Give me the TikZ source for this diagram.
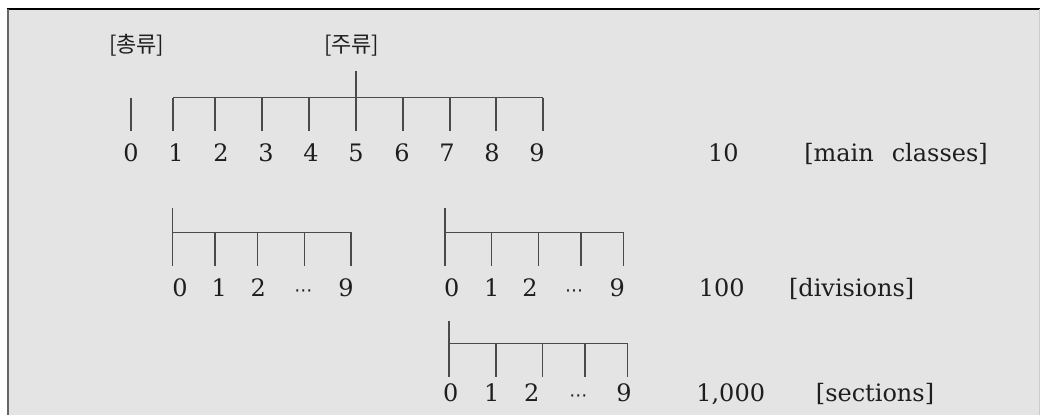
\documentclass[tikz,border=0pt]{standalone}
\usepackage{fontspec}
\setmainfont{DejaVu Serif}
\newfontfamily\kofont{Noto Sans CJK KR}
\newfontfamily\symfont{DejaVu Sans}
\definecolor{bgfill}{HTML}{E4E4E4}
\definecolor{inkc}{HTML}{1E1E1E}
\definecolor{linec}{HTML}{4A4A4A}
\begin{document}
\begin{tikzpicture}[x=0.5pt,y=-0.5pt,
  lbl/.style={anchor=base,inner sep=0pt,text=inkc,font=\fontsize{12pt}{14pt}\selectfont},
  kolbl/.style={anchor=center,inner sep=0pt,text=inkc,font=\kofont\fontsize{11pt}{13pt}\selectfont},
  combline/.style={draw=linec,line width=0.65pt}]
\useasboundingbox (0,0) rectangle (1040,415);
% frame
\fill[bgfill] (7,9) rectangle (1040,415);
\draw[black,line width=1pt] (7,9) -- (1040,9);
\draw[black!60,line width=1pt] (7.5,9) -- (7.5,415);
\draw[black!20,line width=0.5pt] (1039.5,9) -- (1039.5,415);

% ---------- row 1 : main classes ----------
\node[kolbl] (chong) at (136.7,45.7) {[총류]};
\node[kolbl] (ju) at (351.7,45.7) {[주류]};
\foreach \d/\tx/\lx in {0/131/131,1/173/176,2/215/221,3/262/266,4/309/311,5/356/356,6/403/402,7/450/447,8/496/492,9/543/537}{
  \node[lbl] (r\d) at (\lx,162) {\d};
  \coordinate (rb\d) at (\tx,131);
  \coordinate (rt\d) at (\tx,97.7);
}
\coordinate (rtop5) at (356,71);
\draw[combline] (rt0) -- (rb0);
\draw[combline] (rt1) -- (rt9);
\foreach \d in {1,2,3,4,6,7,8,9}{\draw[combline] (rt\d) -- (rb\d);}
\draw[combline] (rtop5) -- (rb5);
\node[lbl] (n10) at (723.3,162) {10};
\node[lbl] (mc) at (896,162) {[main\hspace{0.75em}classes]};

% ---------- rows 2 and 3 : divisions, sections ----------
\foreach \c/\vx/\ta/\tb/\tc/\td/\la/\lb/\lc/\ld/\le/\ty/\bar/\bot/\base in {
  A/172.7/215/257.3/304.3/351/180/219.3/258.3/303.3/346/208.3/232.3/265.7/297,
  B/445/491.7/538.3/581/623.3/451.7/491.7/530/574/617.3/208.3/232.3/265.7/297,
  C/449/496/542.7/585/627.3/450.7/491.7/531.7/578.3/624/320.7/343.3/377.3/402}{
  \coordinate (\c top) at (\vx,\ty);
  \coordinate (\c v) at (\vx,\bar);
  \coordinate (\c 0) at (\vx,\bot);
  \coordinate (\c 1t) at (\ta,\bar); \coordinate (\c 1) at (\ta,\bot);
  \coordinate (\c 2t) at (\tb,\bar); \coordinate (\c 2) at (\tb,\bot);
  \coordinate (\c 3t) at (\tc,\bar); \coordinate (\c 3) at (\tc,\bot);
  \coordinate (\c 4t) at (\td,\bar); \coordinate (\c 4) at (\td,\bot);
  \draw[combline] (\c top) -- (\c 0);
  \draw[combline] (\c v) -- (\c 4t);
  \draw[combline] (\c 1t) -- (\c 1);
  \draw[combline] (\c 2t) -- (\c 2);
  \draw[combline] (\c 3t) -- (\c 3);
  \draw[combline] (\c 4t) -- (\c 4);
  \node[lbl] (\c l0) at (\la,\base) {0};
  \node[lbl] (\c l1) at (\lb,\base) {1};
  \node[lbl] (\c l2) at (\lc,\base) {2};
  \node[lbl] (\c l3) at (\ld,\base) {{\symfont\fontsize{9pt}{11pt}\selectfont ⋯}};
  \node[lbl] (\c l4) at (\le,\base) {9};
}
\node[lbl] (n100) at (721.7,297) {100};
\node[lbl] (dv) at (851.7,297) {[divisions]};
\node[lbl] (n1000) at (730.7,402) {1,000};
\node[lbl] (sc) at (875,402) {[sections]};
\end{tikzpicture}
\end{document}
